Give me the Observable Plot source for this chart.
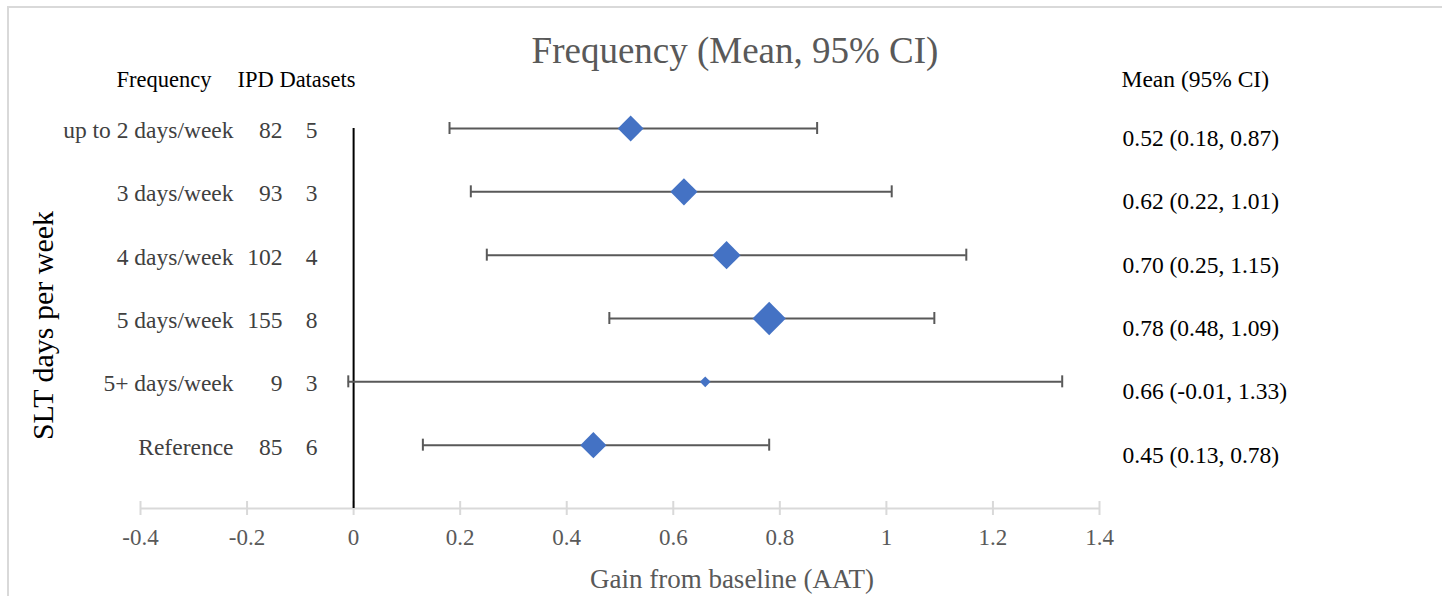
<!DOCTYPE html>
<html>
<head>
<meta charset="utf-8">
<script src="https://cdn.jsdelivr.net/npm/d3@7"></script>
<script src="https://cdn.jsdelivr.net/npm/@observablehq/plot@0.6"></script>
<style>
  html, body { margin: 0; padding: 0; background: #fff; }
  #wrap { position: relative; width: 1442px; height: 596px; overflow: hidden; }
  #frame { position: absolute; left: 7px; top: 6px; width: 1450px; height: 620px; border-left: 2px solid #d9d9d9; border-top: 2px solid #d9d9d9; }
  #chart { position: absolute; left: 0; top: 0; }
  svg { font-family: "Liberation Serif", "Times New Roman", serif; }
</style>
</head>
<body>
<div id="wrap"><div id="frame"></div><div id="chart"></div></div>
<script>
const categories = ["up to 2 days/week", "3 days/week", "4 days/week", "5 days/week", "5+ days/week", "Reference"];
const participants = [82, 93, 102, 155, 9, 85];
const datasets = [5, 3, 4, 8, 3, 6];
const means = [0.52, 0.62, 0.70, 0.78, 0.66, 0.45];
const lower = [0.18, 0.22, 0.25, 0.48, -0.01, 0.13];
const upper = [0.87, 1.01, 1.15, 1.09, 1.33, 0.78];
const rowPos = [6, 5, 4, 3, 2, 1];
const xTicks = [-0.4, -0.2, 0, 0.2, 0.4, 0.6, 0.8, 1, 1.2, 1.4];

const titleText = "Frequency (Mean, 95% CI)";
const leftHeader1 = "Frequency";
const leftHeader2 = "IPD Datasets";
const rightHeader = "Mean (95% CI)";
const xTitle = "Gain from baseline (AAT)";
const yTitle = "SLT days per week";

const rows = categories.map((c, i) => ({
  cat: c, n: participants[i], k: datasets[i], mean: means[i], lo: lower[i], hi: upper[i], y: rowPos[i],
  ci: `${means[i].toFixed(2)} (${lower[i].toFixed(2)}, ${upper[i].toFixed(2)})`
}));
const fmt = d => String(+d.toFixed(1));

const plot = Plot.plot({
  width: 1442,
  height: 596,
  marginLeft: 140,
  marginRight: 343,
  marginTop: 128,
  marginBottom: 88,
  x: { domain: [-0.4, 1.4], axis: null },
  y: { domain: [0, 6], axis: null },
  r: { type: "pow", exponent: 0.4, domain: [0, 155], range: [0, 15] },
  marks: [
    // x axis line and ticks
    Plot.ruleY([0], { stroke: "#d9d9d9", strokeWidth: 2 }),
    Plot.ruleX(xTicks, { x: d => d, y1: 0, y2: 0, insetTop: -7, insetBottom: -7, stroke: "#d9d9d9", strokeWidth: 2 }),
    Plot.text(xTicks, { x: d => d, y: 0, text: fmt, dy: 29, fill: "#595959", fontSize: 23 }),
    // zero line
    Plot.ruleX([0], { y1: 0, y2: 6, stroke: "#000", strokeWidth: 2 }),
    // error bars
    Plot.ruleY(rows, { y: "y", x1: "lo", x2: "hi", stroke: "#595959", strokeWidth: 2 }),
    Plot.ruleX(rows, { x: "lo", y1: "y", y2: "y", insetTop: -6, insetBottom: -6, stroke: "#595959", strokeWidth: 2 }),
    Plot.ruleX(rows, { x: "hi", y1: "y", y2: "y", insetTop: -6, insetBottom: -6, stroke: "#595959", strokeWidth: 2 }),
    // diamonds
    Plot.dot(rows, { x: "mean", y: "y", r: "n", symbol: "diamond2", fill: "#4472C4", stroke: "none" }),
    // left labels
    Plot.text(rows, { y: "y", text: "cat", frameAnchor: "left", textAnchor: "end", dx: 93, dy: 2, fill: "#404040", fontSize: 23.5 }),
    Plot.text(rows, { y: "y", text: d => String(d.n), frameAnchor: "left", textAnchor: "end", dx: 142, dy: 2, fill: "#404040", fontSize: 23.5 }),
    Plot.text(rows, { y: "y", text: d => String(d.k), frameAnchor: "left", textAnchor: "end", dx: 177, dy: 2, fill: "#404040", fontSize: 23.5 }),
    // right labels
    Plot.text(rows, { y: "y", text: "ci", frameAnchor: "right", textAnchor: "start", dx: 23, dy: 10, fill: "#000", fontSize: 23.5 }),
    // headers
    Plot.text([leftHeader1], { text: d => d, frameAnchor: "top-left", textAnchor: "start", lineAnchor: "middle", dx: -24, dy: -49, fill: "#000", fontSize: 22.5 }),
    Plot.text([leftHeader2], { text: d => d, frameAnchor: "top-left", textAnchor: "start", lineAnchor: "middle", dx: 97, dy: -49, fill: "#000", fontSize: 22.5 }),
    Plot.text([rightHeader], { text: d => d, frameAnchor: "top-right", textAnchor: "start", lineAnchor: "middle", dx: 22, dy: -49, fill: "#000", fontSize: 23.5 }),
    // title
    Plot.text([titleText], { text: d => d, frameAnchor: "top", lineAnchor: "middle", dx: 115, dy: -77, fill: "#595959", fontSize: 37 }),
    // axis titles
    Plot.text([xTitle], { text: d => d, frameAnchor: "bottom", lineAnchor: "middle", dx: 112, dy: 71, fill: "#595959", fontSize: 27 }),
    Plot.text([yTitle], { text: d => d, frameAnchor: "left", textAnchor: "middle", lineAnchor: "middle", rotate: -90, dx: -97, dy: 7, fill: "#000", fontSize: 30 })
  ]
});
plot.style.background = "transparent";
document.getElementById("chart").appendChild(plot);
</script>
</body>
</html>
